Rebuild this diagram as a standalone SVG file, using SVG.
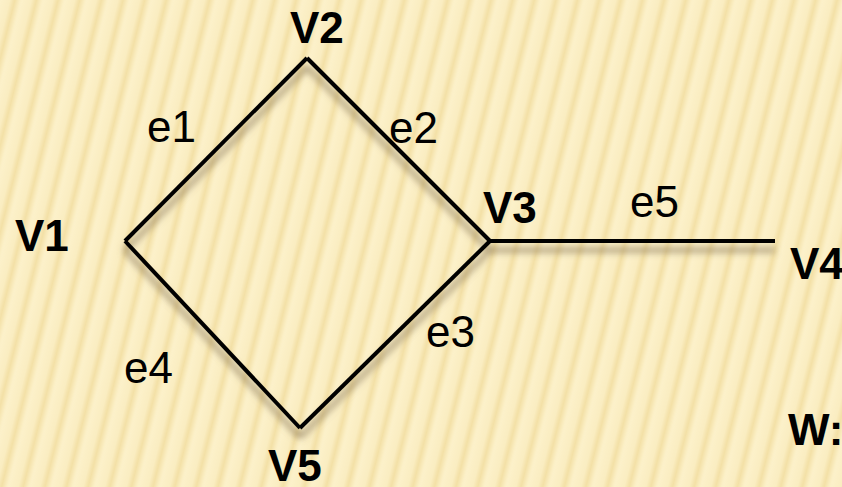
<svg xmlns="http://www.w3.org/2000/svg" width="842" height="487" viewBox="0 0 842 487">
  <defs>
    <!-- soft band that makes up the striped paper -->
    <linearGradient id="band" x1="0" y1="0" x2="1" y2="0">
      <stop offset="0" stop-color="#FCF1CA"/>
      <stop offset="0.45" stop-color="#FAEDC1"/>
      <stop offset="0.68" stop-color="#F3E0A6"/>
      <stop offset="0.9" stop-color="#FAEDC1"/>
      <stop offset="1" stop-color="#FCF1CA"/>
    </linearGradient>
    <pattern id="stripes" patternUnits="userSpaceOnUse" width="21" height="40" patternTransform="rotate(14)">
      <rect width="21" height="40" fill="url(#band)"/>
    </pattern>
    <filter id="shadow" x="-20%" y="-20%" width="140%" height="140%">
      <feGaussianBlur stdDeviation="3"/>
    </filter>
  </defs>
  <style>
    .edge { stroke: #000; stroke-width: 4; fill: none; stroke-linecap: butt; }
    .edge-shadow { stroke: #7E6A4A; stroke-opacity: 0.45; stroke-width: 7; fill: none; }
    .vlabel { font-family: "Liberation Sans", Arial, sans-serif; font-weight: bold; font-size: 44px; fill: #000; }
    .elabel { font-family: "Liberation Sans", Arial, sans-serif; font-size: 44px; fill: #000; }
  </style>

  <!-- background -->
  <rect width="842" height="487" fill="#FBEFC4"/>
  <rect width="842" height="487" fill="url(#stripes)"/>

  <!-- connectors -->
  <g id="edges">
    <g filter="url(#shadow)" transform="translate(0,9)">
      <line class="edge-shadow" x1="125" y1="241" x2="307" y2="58"/>
      <line class="edge-shadow" x1="307" y1="58" x2="490" y2="241"/>
      <line class="edge-shadow" x1="490" y1="241" x2="300" y2="428"/>
      <line class="edge-shadow" x1="125" y1="241" x2="300" y2="428"/>
      <line class="edge-shadow" x1="490" y1="241" x2="775" y2="241"/>
    </g>
    <g id="e1"><line class="edge" x1="125" y1="241" x2="307" y2="58"/>
      <text class="elabel" x="147" y="142">e1</text></g>
    <g id="e2"><line class="edge" x1="307" y1="58" x2="490" y2="241"/>
      <text class="elabel" x="389" y="143">e2</text></g>
    <g id="e3"><line class="edge" x1="490" y1="241" x2="300" y2="428"/>
      <text class="elabel" x="426" y="347">e3</text></g>
    <g id="e4"><line class="edge" x1="125" y1="241" x2="300" y2="428"/>
      <text class="elabel" x="124" y="383">e4</text></g>
    <g id="e5"><line class="edge" x1="490" y1="241" x2="775" y2="241"/>
      <text class="elabel" x="630" y="217">e5</text></g>
  </g>

  <!-- vertices -->
  <g id="V1"><text class="vlabel" x="15" y="251">V1</text></g>
  <g id="V2"><text class="vlabel" x="290" y="43">V2</text></g>
  <g id="V3"><text class="vlabel" x="483" y="223">V3</text></g>
  <g id="V4"><text class="vlabel" x="790" y="279">V4</text></g>
  <g id="V5"><text class="vlabel" x="268" y="481">V5</text></g>

  <!-- walk label, runs off the right edge -->
  <text class="vlabel" x="788" y="445" style="font-weight:900">W:</text>
</svg>
